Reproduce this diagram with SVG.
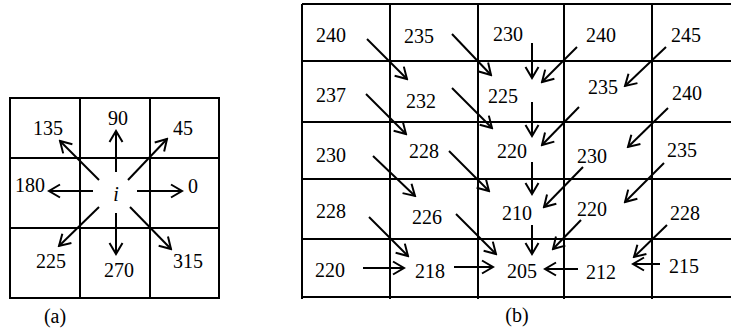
<svg xmlns="http://www.w3.org/2000/svg" width="731" height="336" viewBox="0 0 731 336">
<style>
.grid{stroke:#000;stroke-width:2;fill:none}
.arr{stroke:#000;stroke-width:2;fill:none;marker-end:url(#ah)}
</style>
<defs>
<marker id="ah" markerUnits="userSpaceOnUse" viewBox="-14 -9 16 18" refX="0" refY="0" markerWidth="16" markerHeight="18" orient="auto">
<path d="M-11,-6.5 L0,0 L-11,6.5" stroke="#000" stroke-width="2" fill="none"/>
</marker>
</defs>
<rect width="731" height="336" fill="#fff"/>
<g id="grid-a" class="grid">
<rect x="10" y="98" width="209" height="200"/>
<path d="M80,98V298M150,98V298M10,158H219M10,228H219"/>
</g>
<g id="grid-b" class="grid">
<path d="M302,4H731M302,61H731M302,122H731M302,179H731M302,239H731M302,297H731"/>
<path d="M302,4V299M390,4V299M478,4V299M564,4V299M652,4V299"/>
</g>
<g font-family="'Liberation Serif', serif" font-size="20" text-anchor="middle" fill="#000">
<g id="labels-a">
<text x="48" y="135">135</text>
<text x="118" y="125">90</text>
<text x="183" y="135">45</text>
<text x="30" y="192">180</text>
<text font-style="italic" x="116" y="201">i</text>
<text x="193" y="193">0</text>
<text x="51" y="268">225</text>
<text x="119" y="277">270</text>
<text x="188" y="268">315</text>
</g>
<g id="labels-b">
<text x="331" y="42">240</text>
<text x="419" y="43">235</text>
<text x="508" y="41">230</text>
<text x="601" y="42">240</text>
<text x="686" y="42">245</text>
<text x="331" y="102">237</text>
<text x="421" y="108">232</text>
<text x="503" y="103">225</text>
<text x="603" y="94">235</text>
<text x="687" y="100">240</text>
<text x="331" y="162">230</text>
<text x="424" y="158">228</text>
<text x="512" y="158">220</text>
<text x="592" y="163">230</text>
<text x="682" y="157">235</text>
<text x="331" y="218">228</text>
<text x="427" y="224">226</text>
<text x="517" y="220">210</text>
<text x="592" y="216">220</text>
<text x="685" y="220">228</text>
<text x="330" y="277">220</text>
<text x="430" y="278">218</text>
<text x="522" y="278">205</text>
<text x="601" y="279">212</text>
<text x="684" y="273">215</text>
</g>
<g id="captions">
<text x="55" y="323">(a)</text>
<text x="517" y="322">(b)</text>
</g>
</g>
<g id="connectors">
<line class="arr" x1="116" y1="172" x2="116" y2="131"/>
<line class="arr" x1="137" y1="191" x2="182" y2="191"/>
<line class="arr" x1="93" y1="191" x2="49" y2="191"/>
<line class="arr" x1="128" y1="180" x2="167" y2="139"/>
<line class="arr" x1="99" y1="180" x2="60" y2="141"/>
<line class="arr" x1="99" y1="207" x2="59" y2="246"/>
<line class="arr" x1="116" y1="213" x2="116" y2="254"/>
<line class="arr" x1="130" y1="207" x2="171" y2="249"/>

<line class="arr" x1="367" y1="39" x2="407" y2="79"/>
<line class="arr" x1="452" y1="34" x2="491" y2="75"/>
<line class="arr" x1="532" y1="43" x2="532" y2="78"/>
<line class="arr" x1="577" y1="47" x2="542" y2="82"/>
<line class="arr" x1="666" y1="47" x2="625" y2="86"/>

<line class="arr" x1="366" y1="94" x2="406" y2="134"/>
<line class="arr" x1="452" y1="88" x2="492" y2="128"/>
<line class="arr" x1="532" y1="102" x2="532" y2="136"/>
<line class="arr" x1="579" y1="107" x2="542" y2="145"/>
<line class="arr" x1="668" y1="108" x2="628" y2="147"/>

<line class="arr" x1="373" y1="156" x2="415" y2="196"/>
<line class="arr" x1="449" y1="151" x2="489" y2="191"/>
<line class="arr" x1="532" y1="162" x2="532" y2="194"/>
<line class="arr" x1="583" y1="167" x2="544" y2="207"/>
<line class="arr" x1="664" y1="163" x2="625" y2="202"/>

<line class="arr" x1="369" y1="217" x2="408" y2="256"/>
<line class="arr" x1="456" y1="214" x2="496" y2="254"/>
<line class="arr" x1="532" y1="225" x2="532" y2="254"/>
<line class="arr" x1="581" y1="220" x2="553" y2="249"/>
<line class="arr" x1="667" y1="225" x2="634" y2="257"/>

<line class="arr" x1="363" y1="268" x2="404" y2="268"/>
<line class="arr" x1="454" y1="267" x2="493" y2="267"/>
<line class="arr" x1="578" y1="269" x2="545" y2="269"/>
<line class="arr" x1="660" y1="264" x2="633" y2="264"/>
</g>
</svg>
